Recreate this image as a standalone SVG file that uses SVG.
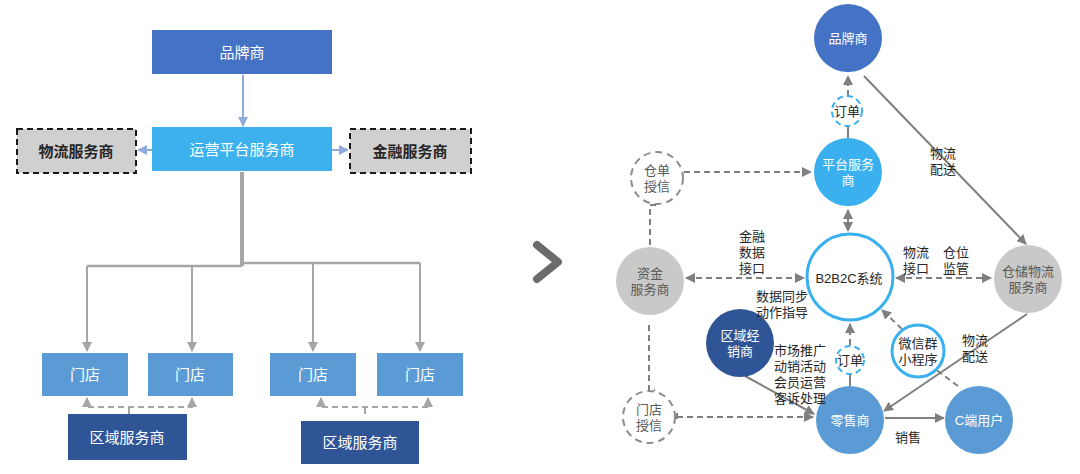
<svg xmlns="http://www.w3.org/2000/svg" width="1080" height="474" viewBox="0 0 1080 474">
<defs>
<marker id="ab" viewBox="0 0 10 10" refX="9" refY="5" markerWidth="5" markerHeight="5" orient="auto-start-reverse"><path d="M0,0 L10,5 L0,10 z" fill="#8FAADC"/></marker>
<marker id="ag" viewBox="0 0 10 10" refX="9" refY="5" markerWidth="5" markerHeight="5" orient="auto-start-reverse"><path d="M0,0 L10,5 L0,10 z" fill="#A6A6A6"/></marker>
<marker id="ad" viewBox="0 0 10 10" refX="9" refY="5" markerWidth="5" markerHeight="5" orient="auto-start-reverse"><path d="M0,0 L10,5 L0,10 z" fill="#7F7F7F"/></marker>
</defs>
<style>
text{font-family:"Liberation Sans","Noto Sans CJK SC",sans-serif;text-anchor:middle;dominant-baseline:central}
.lt{font-size:15px;fill:#fff}
.dk{font-size:15px;fill:#262626;font-weight:bold}
.rt{font-size:13px;fill:#fff}
.lb{font-size:13px;fill:#262626}
.gt{font-size:13px;fill:#595959}
.gl{stroke:#A6A6A6;fill:none}
.dl{stroke:#7F7F7F;fill:none;stroke-width:2}
.ds{stroke-dasharray:6,4}
.dbox{fill:#D0D0D0;stroke:#1a1a1a;stroke-width:2;stroke-dasharray:6,4}
.dcg{fill:#fff;stroke:#8C8C8C;stroke-width:2;stroke-dasharray:7,5}
.dcb{fill:#fff;stroke:#3BB0EF;stroke-width:2;stroke-dasharray:6,4}
</style>

<!-- LEFT connectors -->
<g id="left-connectors">
<line x1="243" y1="75" x2="243" y2="126" stroke="#8FAADC" stroke-width="2" marker-end="url(#ab)"/>
<line x1="152" y1="150" x2="138" y2="150" stroke="#8FAADC" stroke-width="2" marker-end="url(#ab)"/>
<line x1="332" y1="150" x2="348" y2="150" stroke="#8FAADC" stroke-width="2" marker-end="url(#ab)"/>
<line x1="242" y1="172" x2="242" y2="266" class="gl" stroke-width="4"/>
<path d="M242,266 L87,266" class="gl" stroke-width="2.5"/>
<path d="M242,263 L420,263" class="gl" stroke-width="2.5"/>
<path d="M87,266 L87,351" class="gl" stroke-width="2" marker-end="url(#ag)"/>
<path d="M192,266 L192,351" class="gl" stroke-width="2" marker-end="url(#ag)"/>
<path d="M313,263 L313,351" class="gl" stroke-width="2" marker-end="url(#ag)"/>
<path d="M420,263 L420,351" class="gl" stroke-width="2" marker-end="url(#ag)"/>
<path d="M87,398 L87,407 L192,407 L192,398" class="gl ds" stroke-width="2" marker-start="url(#ag)" marker-end="url(#ag)"/>
<line x1="129" y1="407" x2="129" y2="414" class="gl" stroke-width="2"/>
<path d="M321,398 L321,407 L428,407 L428,398" class="gl ds" stroke-width="2" marker-start="url(#ag)" marker-end="url(#ag)"/>
<line x1="365" y1="407" x2="365" y2="414" class="gl" stroke-width="2"/>
</g>

<!-- LEFT nodes -->
<g id="l-brand"><rect x="152" y="30" width="180" height="44" fill="#4472C4"/><text x="242" y="52" class="lt">品牌商</text></g>
<g id="l-platform"><rect x="152" y="127" width="180" height="44" fill="#3CB1EE"/><text x="242" y="149" class="lt">运营平台服务商</text></g>
<g id="l-logistics"><rect x="17" y="129" width="119" height="44" class="dbox"/><text x="76" y="151" class="dk">物流服务商</text></g>
<g id="l-finance"><rect x="350" y="129" width="121" height="44" class="dbox"/><text x="410" y="151" class="dk">金融服务商</text></g>
<g id="l-store1"><rect x="42" y="353" width="86" height="43" fill="#5B9BD5"/><text x="85" y="374" class="lt">门店</text></g>
<g id="l-store2"><rect x="148" y="353" width="85" height="43" fill="#5B9BD5"/><text x="190" y="374" class="lt">门店</text></g>
<g id="l-store3"><rect x="270" y="353" width="86" height="43" fill="#5B9BD5"/><text x="313" y="374" class="lt">门店</text></g>
<g id="l-store4"><rect x="377" y="353" width="86" height="43" fill="#5B9BD5"/><text x="420" y="374" class="lt">门店</text></g>
<g id="l-region1"><rect x="68" y="414" width="119" height="46" fill="#2F5597"/><text x="127" y="437" class="lt">区域服务商</text></g>
<g id="l-region2"><rect x="301" y="421" width="118" height="43" fill="#2F5597"/><text x="360" y="442" class="lt">区域服务商</text></g>

<!-- chevron -->
<g id="chevron"><path d="M537,245 L558,262 L537,279" fill="none" stroke="#6B6B6B" stroke-width="8" stroke-linecap="round" stroke-linejoin="round"/></g>

<!-- RIGHT connectors -->
<g id="right-connectors">
<path d="M848,96 L848,76" class="dl ds" marker-end="url(#ad)"/>
<path d="M848,138 L848,126" class="dl"/>
<path d="M848,210 L848,231" class="dl" marker-start="url(#ad)" marker-end="url(#ad)"/>
<path d="M864,76 L1026,244" class="dl" marker-end="url(#ad)"/>
<path d="M684,172 L811,172" class="dl ds" marker-end="url(#ad)"/>
<path d="M656,205 L650,205 L650,247" class="dl ds"/>
<path d="M686,278 L804,278" class="dl ds" marker-start="url(#ad)" marker-end="url(#ad)"/>
<path d="M896,278 L991,278" class="dl ds" marker-start="url(#ad)" marker-end="url(#ad)"/>
<path d="M649,325 L649,390 L655,390" class="dl ds"/>
<path d="M677,413 L677,421 M677,417 L813,417" class="dl ds" marker-end="url(#ad)"/>
<path d="M745,376 L814,414" class="dl" marker-end="url(#ad)"/>
<path d="M1027,314 L884,411" class="dl" marker-end="url(#ad)"/>
<path d="M885,418 L944,418" class="dl" marker-end="url(#ad)"/>
<path d="M850,386 L850,375" class="dl"/>
<path d="M850,345 L850,324" class="dl ds" marker-end="url(#ad)"/>
<path d="M902,329 L882,310" class="dl ds" marker-end="url(#ad)"/>
<path d="M958,386 L935,369" class="dl ds"/>
</g>

<!-- RIGHT nodes -->
<g id="r-brand"><circle cx="848" cy="38" r="34" fill="#4472C4"/><text x="848" y="38" class="rt" font-size="14">品牌商</text></g>
<g id="r-order1"><circle cx="847" cy="111" r="15" class="dcb"/><text x="847" y="111" class="lb">订单</text></g>
<g id="r-platform"><circle cx="848" cy="172" r="34" fill="#3BB0EF"/><text x="848" y="164" class="rt">平台服务<tspan x="848" dy="16">商</tspan></text></g>
<g id="r-warrant"><circle cx="657" cy="178" r="26" class="dcg"/><text x="657" y="170" class="gt">仓单<tspan x="657" dy="16">授信</tspan></text></g>
<g id="r-fund"><circle cx="650" cy="281" r="34" fill="#C9C9C9"/><text x="650" y="273" class="gt">资金<tspan x="650" dy="16">服务商</tspan></text></g>
<g id="r-b2b2c"><circle cx="850" cy="277" r="43" fill="#fff" stroke="#3BB0EF" stroke-width="3"/><text x="849" y="278" class="lb">B2B2C系统</text></g>
<g id="r-warehouse"><circle cx="1028" cy="279" r="34" fill="#C9C9C9"/><text x="1028" y="271" class="gt">仓储物流<tspan x="1028" dy="16">服务商</tspan></text></g>
<g id="r-region"><circle cx="740" cy="343" r="34" fill="#2F5597"/><text x="740" y="335" class="rt">区域经<tspan x="740" dy="16">销商</tspan></text></g>
<g id="r-order2"><circle cx="850" cy="360" r="14" class="dcb"/><text x="850" y="360" class="lb">订单</text></g>
<g id="r-wechat"><circle cx="918" cy="351" r="26" fill="#fff" stroke="#3BB0EF" stroke-width="3"/><text x="918" y="343" class="lb">微信群<tspan x="918" dy="16">小程序</tspan></text></g>
<g id="r-store-credit"><circle cx="649" cy="417" r="26" class="dcg"/><text x="649" y="409" class="gt">门店<tspan x="649" dy="16">授信</tspan></text></g>
<g id="r-retailer"><circle cx="850" cy="420" r="34" fill="#5B9BD5"/><text x="850" y="420" class="rt" font-size="14">零售商</text></g>
<g id="r-consumer"><circle cx="979" cy="420" r="34" fill="#5B9BD5"/><text x="979" y="420" class="rt" font-size="14">C端用户</text></g>

<!-- RIGHT labels -->
<g id="r-labels">
<text x="943" y="153" class="lb">物流<tspan x="943" dy="16">配送</tspan></text>
<text x="752" y="236" class="lb">金融<tspan x="752" dy="16">数据</tspan><tspan x="752" dy="16">接口</tspan></text>
<text x="916" y="252" class="lb">物流<tspan x="916" dy="16">接口</tspan></text>
<text x="956" y="252" class="lb">仓位<tspan x="956" dy="16">监管</tspan></text>
<text x="782" y="296" class="lb">数据同步<tspan x="782" dy="16">动作指导</tspan></text>
<text x="975" y="340" class="lb">物流<tspan x="975" dy="16">配送</tspan></text>
<text x="800" y="350" class="lb">市场推广<tspan x="800" dy="16">动销活动</tspan><tspan x="800" dy="16">会员运营</tspan><tspan x="800" dy="16">客诉处理</tspan></text>
<text x="908" y="437" class="lb">销售</text>
</g>
</svg>
